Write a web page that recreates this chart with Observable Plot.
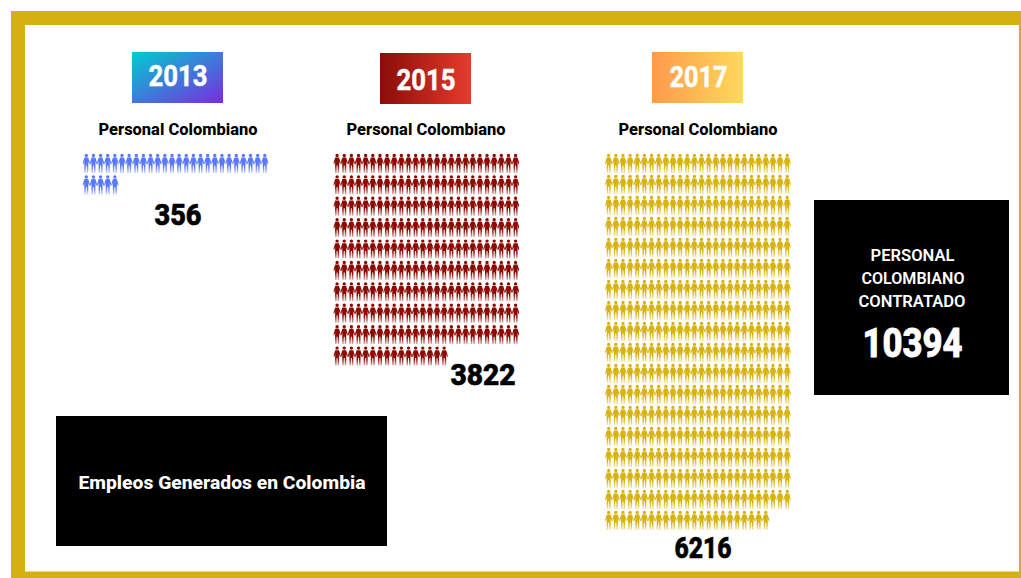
<!DOCTYPE html>
<html lang="es">
<head>
<meta charset="utf-8">
<title>Empleos Generados en Colombia</title>
<script src="https://cdn.jsdelivr.net/npm/d3@7"></script>
<script src="https://cdn.jsdelivr.net/npm/@observablehq/plot@0.6"></script>
<style>
  html, body { margin: 0; padding: 0; background: #fff; }
  svg { display: block; }
</style>
</head>
<body>
<div id="chart"></div>
<script>
// Hiring figures per year and the number of person icons drawn for each.
const years = ["2013", "2015", "2017"];
const hired = [356, 3822, 6216];
const iconCounts = [31, 250, 465];
const iconColors = ["#5a78ff", "#8c0a02", "#d8b210"];
const subtitle = "Personal Colombiano";
const title = "Empleos Generados en Colombia";
const totalLines = ["PERSONAL", "COLOMBIANO", "CONTRATADO"];
const total = 10394;

// Page layout, in pixels of the 1021×578 canvas.
const width = 1021, height = 578;
const gold = "#d4b010";
const iconsPerRow = 26;
const columnPitch = 7.14;
const gridLeft = [85.8, 336.6, 608.2];
const gridTop = 163;
const rowPitch = [21.5, 21.4, 21];
const badgeLeft = [132, 380, 652];
const badgeTop = [52, 53, 52];
const badgeSize = [91, 51];
const badgeStops = [["#00cdd0", "#7a2be2"], ["#8a0c08", "#e63b2c"], ["#ff9a4c", "#ffd95a"]];
const badgeVector = [[0, 0, 1, 1], [0, 0.5, 1, 0.5], [0, 0.5, 1, 0.5]];
const badgeTextX = [177.5, 425.5, 698];
const badgeTextY = [75.5, 79.5, 76.5];
const badgeTextWidth = [59, 59, 58];
const subtitleX = [177.5, 425.5, 697.5];
const valueX = [177.5, 482.5, 702.5];
const valueY = [215, 375, 548];
const valueWidth = [47, 65, 57];

// One rows-and-columns record per person icon.
const people = years.flatMap((year, k) =>
  d3.range(iconCounts[k]).map((i) => ({
    year,
    x: gridLeft[k] + (i % iconsPerRow) * columnPitch,
    y: gridTop + Math.floor(i / iconsPerRow) * rowPitch[k]
  }))
);

// Person silhouette: a head, a body with arms held out, two legs.
const personSymbol = {
  draw(context, size) {
    const s = Math.sqrt(size / Math.PI) / 5;
    const outline = [
      [-1.9, -5.9], [1.9, -5.9], [3.4, -1.2], [3.4, 0.8], [2.9, 0.8], [2.0, -2.2],
      [2.0, 9.4], [0.5, 9.4], [0.5, 2], [-0.5, 2], [-0.5, 9.4], [-2.0, 9.4],
      [-2.0, -2.2], [-2.9, 0.8], [-3.4, 0.8], [-3.4, -1.2]
    ];
    context.moveTo(1.7 * s, -8 * s);
    context.arc(0, -8 * s, 1.7 * s, 0, 2 * Math.PI);
    context.closePath();
    outline.forEach(([x, y], i) =>
      i ? context.lineTo(x * s, y * s) : context.moveTo(x * s, y * s)
    );
    context.closePath();
  }
};

// Gradient definitions: badge backgrounds and the fade at the feet of each icon.
function gradients() {
  const defs = d3.create("svg:defs");
  const addGradient = (id, [x1, y1, x2, y2], stops) => {
    const g = defs.append("linearGradient").attr("id", id)
      .attr("x1", x1).attr("y1", y1).attr("x2", x2).attr("y2", y2);
    stops.forEach(([offset, color, opacity = 1]) =>
      g.append("stop").attr("offset", offset).attr("stop-color", color).attr("stop-opacity", opacity)
    );
  };
  years.forEach((year, k) => {
    addGradient(`badge${year}`, badgeVector[k], [[0, badgeStops[k][0]], [1, badgeStops[k][1]]]);
    addGradient(`icon${year}`, [0, 0, 0, 1], [[0, iconColors[k]], [0.66, iconColors[k]], [1, iconColors[k], 0.3]]);
  });
  return defs.node();
}

const box = (x1, y1, x2, y2, fill) =>
  Plot.rect([{ x1, y1, x2, y2 }], { x1: "x1", y1: "y1", x2: "x2", y2: "y2", fill, inset: 0 });

// A centred label fitted to the given run width; heft thickens the strokes of the display figures.
const label = (text, x, y, fontSize, run, fill, fontWeight = 700, heft = 0) =>
  Plot.text([text], {
    x: () => x, y: () => y, text: (d) => d, fontSize, fill, fontWeight,
    stroke: heft ? fill : "none", strokeWidth: heft,
    fontFamily: "Roboto", textAnchor: "middle", lineAnchor: "middle",
    render(index, scales, values, dimensions, context, next) {
      const g = next(index, scales, values, dimensions, context);
      d3.select(g).selectAll("text")
        .attr("textLength", run)
        .attr("lengthAdjust", "spacingAndGlyphs");
      return g;
    }
  });

const chart = Plot.plot({
  width, height,
  margin: 0,
  x: { domain: [0, width], range: [0, width], axis: null },
  y: { domain: [0, height], range: [0, height], axis: null },
  marks: [
    gradients,
    // Gold frame with the white sheet inside it.
    box(11, 11, width, height, gold),
    box(25, 25, 1019, 571.5, "#fff"),

    // Year badges, headings and person pictograms.
    ...years.flatMap((year, k) => [
      box(badgeLeft[k], badgeTop[k], badgeLeft[k] + badgeSize[0], badgeTop[k] + badgeSize[1], `url(#badge${year})`),
      label(year, badgeTextX[k], badgeTextY[k], 30, badgeTextWidth[k], "#fff", 700, 0.5),
      label(subtitle, subtitleX[k], 129, 16.2, 159, "#000", 800),
      Plot.dot(people.filter((d) => d.year === year), {
        x: "x", y: "y", r: 5, symbol: personSymbol, fill: `url(#icon${year})`, stroke: "none"
      }),
      label(String(hired[k]), valueX[k], valueY[k], 30, valueWidth[k], "#000", 800, 0.7)
    ]),

    // Title block.
    box(56, 416, 387, 546, "#000"),
    label(title, 221.5, 482, 19, 287, "#fff", 800),

    // Total block.
    box(814, 200, 1009, 395, "#000"),
    label(totalLines[0], 912, 255, 15.6, 84, "#fff", 600),
    label(totalLines[1], 912.5, 278, 15.6, 103, "#fff", 600),
    label(totalLines[2], 911.5, 301, 15.6, 107, "#fff", 600),
    label(String(total), 912, 343, 41, 100, "#fff", 800, 0.9)
  ]
});

document.getElementById("chart").append(chart);
</script>
</body>
</html>
